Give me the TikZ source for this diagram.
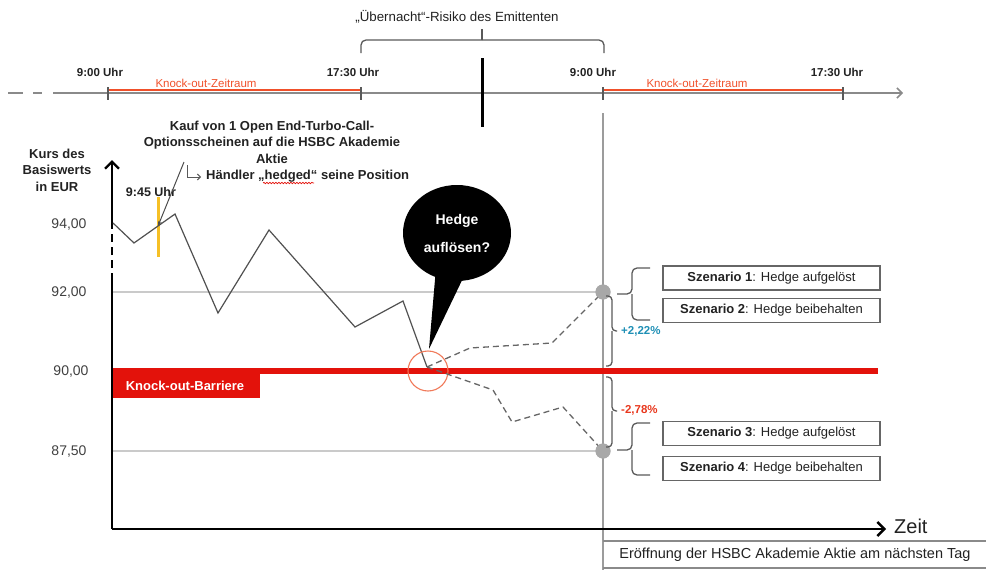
\documentclass[tikz,border=0pt]{standalone}
\usepackage{fontspec}
\setmainfont{Liberation Sans}
\usetikzlibrary{shapes.geometric,arrows.meta,decorations.pathmorphing}
\definecolor{koRed}{HTML}{E3120B}
\definecolor{koOrange}{HTML}{F0502A}
\definecolor{circOrange}{HTML}{F07A5A}
\definecolor{hYellow}{HTML}{F6C026}
\definecolor{pctBlue}{HTML}{1E8FB5}
\definecolor{pctRed}{HTML}{E8371D}
\definecolor{axGray}{HTML}{8A8A8A}
\definecolor{lineGray}{HTML}{CACACA}
\definecolor{curveGray}{HTML}{505050}
\definecolor{txtDark}{HTML}{222222}
\definecolor{dotGray}{HTML}{A8A8A8}
\begin{document}
\begin{tikzpicture}[x=1pt,y=-1pt,
  txt/.style={inner sep=0pt, text=txtDark, font=\fontsize{13}{16}\selectfont},
  btxt/.style={txt, font=\fontsize{13}{16.5}\selectfont\bfseries, align=center},
  tltxt/.style={inner sep=0pt, text=txtDark, font=\fontsize{11.5}{14}\selectfont\bfseries},
  kotxt/.style={inner sep=0pt, text=koOrange, font=\fontsize{11.5}{14}\selectfont},
  ytxt/.style={inner sep=0pt, text=black!75, font=\fontsize{14}{16}\selectfont},
  scenbox/.style={draw=black!60, line width=1.3pt, minimum width=217pt, minimum height=24pt, inner sep=0pt, text=txtDark, font=\fontsize{13}{14}\selectfont},
  bracestyle/.style={draw=black!65, line width=1.3pt, rounded corners=5pt},
  timeline/.style={draw=axGray, line width=1.5pt},
  mainaxis/.style={draw=black, line width=2.4pt},
  pricecurve/.style={draw=curveGray, line width=1.2pt},
  scenpath/.style={draw=black!60, line width=1.3pt, dash pattern=on 6pt off 4pt},
  gdot/.style={circle, fill=dotGray, minimum size=15pt, inner sep=0pt},
]
\useasboundingbox (0,0) rectangle (986,570);

% ---------------- top timeline ----------------
\draw[timeline] (8,93) -- (23,93);
\draw[timeline] (33,93) -- (42,93);
\coordinate (tlS) at (53,93);
\coordinate (tlE) at (903,93);
\draw[timeline, -{Straight Barb[length=5pt,width=10pt,line width=1.5pt]}] (tlS) -- (tlE);
\draw[koOrange, line width=1.4pt] (108,90) -- (361,90);
\draw[koOrange, line width=1.4pt] (603,90) -- (843,90);
\foreach \t in {108,361,603,843}{
  \draw[draw=black!65, line width=1.4pt] (\t,87) -- (\t,100);
}
\node[tltxt] (l900a) at (100,72) {9:00 Uhr};
\node[tltxt] (l1730a) at (353,72) {17:30 Uhr};
\node[tltxt] (l900b) at (593,72) {9:00 Uhr};
\node[tltxt] (l1730b) at (837,72) {17:30 Uhr};
\node[kotxt] (koz1) at (206,83) {Knock-out-Zeitraum};
\node[kotxt] (koz2) at (697,83) {Knock-out-Zeitraum};

% overnight marker and brace
\draw[black, line width=3pt] (482,58) -- (482,127);
\draw[bracestyle] (361,53) |- (482,40);
\draw[bracestyle] (604,53) |- (482,40);
\draw[draw=black!65, line width=1.3pt] (482,40) -- (482,29);
\node[txt, font=\fontsize{13.3}{16}\selectfont] (overnight) at (457,17) {„Übernacht“-Risiko des Emittenten};

% vertical next-day line
\draw[draw=axGray!85, line width=2.2pt] (603,113) -- (603,570);

% bottom box
\draw[draw=axGray, line width=1.5pt] (603,541) -- (986,541);
\draw[draw=axGray, line width=1.5pt] (603,568) -- (986,568);
\node[txt, font=\fontsize{14.5}{16}\selectfont] (eroeff) at (795,555) {Eröffnung der HSBC Akademie Aktie am nächsten Tag};

% ---------------- grid lines ----------------
\draw[draw=lineGray, line width=1.6pt] (112,292) -- (603,292);
\draw[draw=lineGray, line width=1.6pt] (112,451) -- (603,451);

% ---------------- barrier ----------------
\draw[koRed, line width=6pt] (112,371) -- (878,371);
\node[fill=koRed, minimum width=148pt, minimum height=30pt, inner sep=0pt, anchor=north west] (kobox) at (112,368) {};
\node[inner sep=0pt, text=white, font=\fontsize{13}{15}\selectfont\bfseries] (kotext) at (185,386) {Knock-out-Barriere};

% ---------------- axes ----------------
\coordinate (orig) at (112,529);
\coordinate (ytop) at (112,160);
\coordinate (xend) at (886,529);
\draw[mainaxis] (orig) -- (112,281);
\draw[mainaxis, dash pattern=on 8pt off 5pt] (112,281) -- (112,223);
\draw[mainaxis, -{Straight Barb[length=7pt,width=14pt,line width=2.4pt]}] (112,223) -- (ytop);
\draw[mainaxis, -{Straight Barb[length=7pt,width=14pt,line width=2.4pt]}] (orig) -- (xend);
\node[inner sep=0pt, text=txtDark, font=\fontsize{20}{22}\selectfont, anchor=west] (zeit) at (894,526) {Zeit};

\node[btxt] (kurs) at (57,170) {Kurs des\\Basiswerts\\in EUR};

\node[ytxt] (y94) at (69,225) {94,00};
\node[ytxt] (y92) at (69,293) {92,00};
\node[ytxt] (y90) at (71,372) {90,00};
\node[ytxt] (y875) at (69,452) {87,50};

% ---------------- price curve ----------------
\coordinate (p0) at (113,223);
\coordinate (p1) at (134,243);
\coordinate (p2) at (158,226);
\coordinate (p3) at (175,214);
\coordinate (p4) at (218,313);
\coordinate (p5) at (269,230);
\coordinate (p6) at (355,327);
\coordinate (p7) at (403,301);
\coordinate (p8) at (427,367);
\draw[hYellow, line width=3pt] (158,197) -- (158,257);
\draw[pricecurve] (p0) -- (p1) -- (p2) -- (p3) -- (p4) -- (p5) -- (p6) -- (p7) -- (p8);

% annotation
\node[btxt] (kauf) at (272,142) {Kauf von 1 Open End-Turbo-Call-\\Optionsscheinen auf die HSBC Akademie\\Aktie};
\node[txt, font=\fontsize{13}{16}\selectfont\bfseries, anchor=west] (haendler) at (206,176) {Händler „hedged“ seine Position};
\draw[koRed, line width=0.7pt, decorate, decoration={snake, amplitude=0.7pt, segment length=3pt}] (263,183) -- (314,183);
\node[txt, font=\fontsize{12.5}{15}\selectfont\bfseries] (t945) at (151,192) {9:45 Uhr};
\coordinate (annS) at (184,162);
\draw[draw=black!70, line width=1pt, -{Stealth[length=5pt,width=4pt]}] (annS) -- (p2);
\coordinate (hk1) at (187,165);
\coordinate (hk2) at (187,177);
\coordinate (hk3) at (201,177);
\draw[draw=black!65, line width=1pt, -{Straight Barb[length=3pt,width=6pt]}] (hk1) -- (hk2) -- (hk3);

% speech bubble
\fill[black] (436,268) -- (429,349) -- (466,272) -- cycle;
\node[ellipse, fill=black, minimum width=108pt, minimum height=96pt, inner sep=0pt, text=white, align=center, font=\fontsize{14}{28}\selectfont\bfseries] (bubble) at (457,233) {Hedge\\auflösen?};

% red circle at barrier touch
\node[circle, draw=circOrange, line width=1.1pt, minimum size=40pt, inner sep=0pt] (touch) at (428,371) {};

% scenario paths
\node[gdot] (d1) at (603,292) {};
\node[gdot] (d2) at (603,451) {};
\draw[scenpath] (p8) -- (470,348) -- (552,343) -- (d1.center);
\draw[scenpath] (p8) -- (493,390) -- (512,422) -- (563,407) -- (d2.center);
\node[gdot] at (603,292) {};
\node[gdot] at (603,451) {};

% percentage braces
\draw[bracestyle, rounded corners=4pt] (606,296) -| (612,331) -- (617,331);
\draw[bracestyle, rounded corners=4pt] (606,366) -| (612,331);
\node[inner sep=0pt, anchor=west, text=pctBlue, font=\fontsize{11.5}{14}\selectfont\bfseries] (pplus) at (621,331) {+2,22\%};
\draw[bracestyle, rounded corners=4pt] (606,377) -| (612,411) -- (617,411);
\draw[bracestyle, rounded corners=4pt] (606,447) -| (612,411);
\node[inner sep=0pt, anchor=west, text=pctRed, font=\fontsize{11.5}{14}\selectfont\bfseries] (pminus) at (621,410) {-2,78\%};

% scenario braces and boxes
\draw[bracestyle] (650,268) -| (632,294) -- (617,294);
\draw[bracestyle] (650,320) -| (632,294);
\draw[bracestyle] (650,423) -| (632,450) -- (617,450);
\draw[bracestyle] (650,475) -| (632,450);
\node[scenbox] (s1) at (771.5,278) {\textbf{Szenario 1}: Hedge aufgelöst};
\node[scenbox] (s2) at (771.5,310.5) {\textbf{Szenario 2}: Hedge beibehalten};
\node[scenbox] (s3) at (771.5,433.5) {\textbf{Szenario 3}: Hedge aufgelöst};
\node[scenbox] (s4) at (771.5,468.5) {\textbf{Szenario 4}: Hedge beibehalten};
\end{tikzpicture}
\end{document}
